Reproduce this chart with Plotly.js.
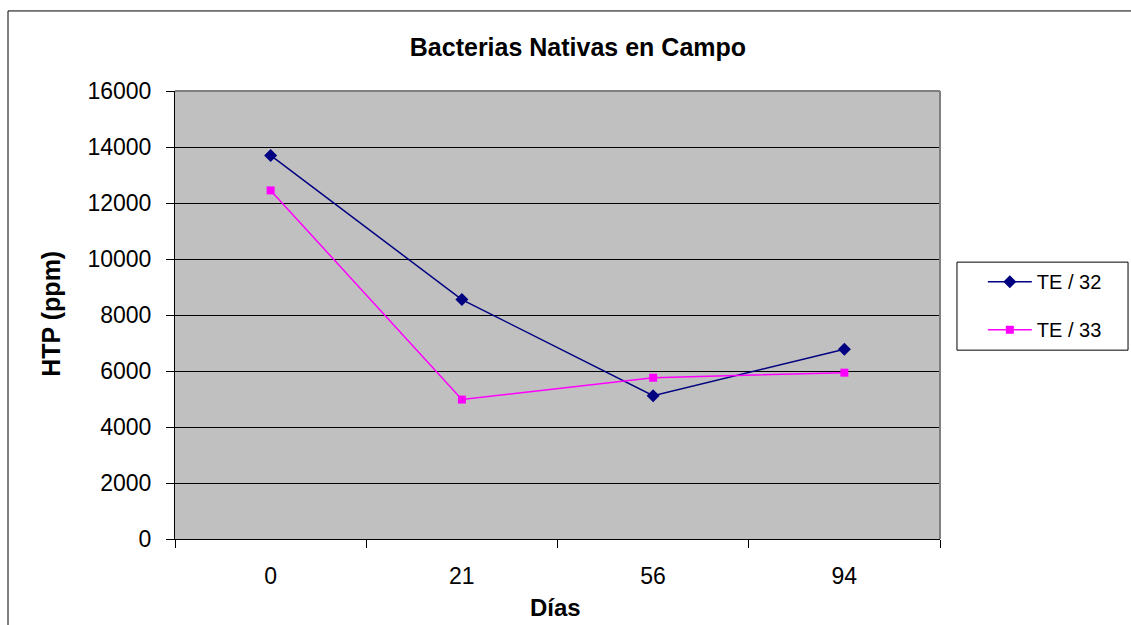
<!DOCTYPE html>
<html>
<head>
<meta charset="utf-8">
<script src="https://cdn.plot.ly/plotly-3.0.1.min.js"></script>
<style>
html,body{margin:0;padding:0;background:#fff;}
#chart{width:1131px;height:625px;}
</style>
</head>
<body>
<div id="chart"></div>
<script>
const categories = ["0", "21", "56", "94"];
const te32 = [13700, 8550, 5120, 6780];
const te33 = [12450, 4980, 5760, 5940];
const yTicks = [0, 2000, 4000, 6000, 8000, 10000, 12000, 14000, 16000];

const F = "Arial, 'Liberation Sans', sans-serif";

const traces = [
  {
    x: categories, y: te32, name: "TE / 32", type: "scatter", mode: "lines+markers",
    legendgroup: "a",
    line: {color: "#000080", width: 1.5},
    marker: {symbol: "diamond", size: 10, color: "#000080"}
  },
  {
    x: categories, y: te33, name: "TE / 33", type: "scatter", mode: "lines+markers",
    legendgroup: "b",
    line: {color: "#FF00FF", width: 1.5},
    marker: {symbol: "square", size: 8, color: "#FF00FF"}
  }
];

const layout = {
  width: 1131, height: 625,
  paper_bgcolor: "#ffffff",
  plot_bgcolor: "#C0C0C0",
  margin: {l: 175, r: 191, t: 91, b: 86, pad: 0},
  title: {text: "<b>Bacterias Nativas en Campo</b>", font: {family: F, size: 25, color: "#000"},
          x: 0.511, xanchor: "center", y: 0.9248, yanchor: "middle"},
  font: {family: F, color: "#000"},
  xaxis: {
    type: "category",
    range: [-0.5, 3.5],
    tickson: "boundaries",
    ticks: "outside", ticklen: 8, tickcolor: "#000", tickwidth: 1,
    ticklabelstandoff: 16,
    showline: true, linecolor: "#000", linewidth: 1,
    showgrid: false, zeroline: false,
    tickfont: {family: F, size: 23}
  },
  yaxis: {
    range: [0, 16000],
    tickvals: yTicks,
    ticktext: yTicks.map(String),
    ticks: "outside", ticklen: 8, tickcolor: "#000", tickwidth: 1,
    ticklabelstandoff: 10,
    showline: true, linecolor: "#000", linewidth: 1,
    showgrid: true, gridcolor: "#000", gridwidth: 1,
    zeroline: false,
    tickfont: {family: F, size: 23}
  },
  annotations: [
    {text: "<b>HTP (ppm)</b>", xref: "paper", yref: "paper", x: -0.162, y: 0.503,
     xanchor: "center", yanchor: "middle", textangle: -90, showarrow: false,
     font: {family: F, size: 25, color: "#000"}},
    {text: "<b>Días</b>", xref: "paper", yref: "paper", x: 0.498, y: -0.1526,
     xanchor: "center", yanchor: "middle", showarrow: false,
     font: {family: F, size: 24, color: "#000"}}
  ],
  showlegend: true,
  legend: {
    x: 1.056, xanchor: "left", y: 0.618, yanchor: "top",
    bgcolor: "rgba(0,0,0,0)", borderwidth: 0,
    font: {family: F, size: 20},
    itemwidth: 44,
    traceorder: "grouped",
    tracegroupgap: 19
  },
  shapes: [
    {type: "rect", xref: "paper", yref: "paper", x0: -0.2183, x1: 1.3, y0: -0.3, y1: 1.1787,
     line: {color: "#000", width: 1}, fillcolor: "rgba(0,0,0,0)", layer: "below"},
    {type: "rect", xref: "paper", yref: "paper", x0: 1.0222, x1: 1.2458, y0: 0.4215, y1: 0.618,
     line: {color: "#000", width: 1}, fillcolor: "#fff", layer: "below"},
    {type: "line", xref: "paper", yref: "paper", x0: 0, x1: 1, y0: 1, y1: 1,
     line: {color: "#808080", width: 2}},
    {type: "line", xref: "paper", yref: "paper", x0: 1, x1: 1, y0: 0, y1: 1,
     line: {color: "#808080", width: 2}}
  ]
};

Plotly.newPlot("chart", traces, layout, {displayModeBar: false, staticPlot: true});
</script>
</body>
</html>
